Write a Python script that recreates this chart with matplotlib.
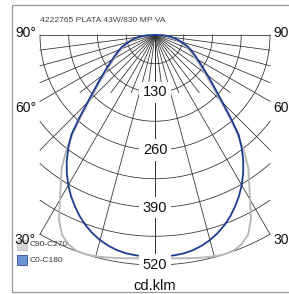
import numpy as np
import matplotlib
matplotlib.use("Agg")
import matplotlib.pyplot as plt
from matplotlib.patches import Rectangle

plt.rcParams['font.family'] = ['Liberation Sans', 'DejaVu Sans']

# ==========================
# DATA (cd/klm)
# ==========================

title = "4222765 PLATA 43W/830 MP VA"
unit_label = "cd.klm"

gamma = [0, 2.5, 5, 7.5, 10, 12.5, 15, 17.5, 20, 22.5, 25, 27.5, 30, 32.5,
         35, 37.5, 40, 42.5, 45, 47.5, 50, 52.5, 55, 57.5, 60, 62.5, 65,
         67.5, 70, 72.5, 75, 77.5, 80, 82.5, 85, 87.5, 90]

c0_c180 = [502, 501, 500, 498, 494, 488, 480, 470, 458, 444, 428, 411, 392, 371,
           348, 322, 294, 252, 216, 189, 168, 150, 135, 123, 112, 103, 95,
           87, 80, 71, 62, 55, 47, 39, 30, 18, 0]

c90_c270 = [504, 505, 507, 509, 512, 515, 518, 520, 519, 512, 498, 470, 430, 396,
            368, 330, 288, 245, 209, 182, 160, 142, 128, 116, 106, 97, 89,
            82, 75, 66, 58, 51, 43, 36, 27, 16, 0]

ring_values = [130, 260, 390, 520]
ring_step = 65
angle_labels = [90, 60, 30]
legend_names = ["C90-C270", "C0-C180"]

# ==========================
# STYLE
# ==========================

BLUE = "#1b3d91"
GRAY = "#b9b9b9"
GRID = "#2b2b2b"

R_MAX = 520
HALF_W = 260          # grid is clipped left/right at this width
px = R_MAX / 230.0    # data units per pixel

fig = plt.figure(figsize=(2.89, 2.94), dpi=100)
ax = fig.add_axes([0, 0, 1, 1])
ax.set_xlim(-155 * px, 134 * px)
ax.set_ylim(-259 * px, 35 * px)
ax.axis("off")

# frame
ax.add_patch(Rectangle((-143 * px, -257 * px), 320 * px, 287 * px,
                       fill=False, edgecolor="#9a9a9a", lw=0.9, clip_on=False))

# ==========================
# GRID
# ==========================

r = ring_step
while r <= R_MAX:
    tmax = np.degrees(np.arcsin(min(1.0, HALF_W / r)))
    t = np.radians(np.linspace(-tmax, tmax, 200))
    ax.plot(r * np.sin(t), -r * np.cos(t), color=GRID, lw=0.55, zorder=1)
    r += ring_step

for a in np.arange(0, 90.1, 7.5):
    t = np.radians(a)
    rend = R_MAX if a == 0 else min(R_MAX, HALF_W / np.sin(t))
    if a % 15 != 0:
        rend = min(rend, 130 / np.cos(t))
    for side in (-1, 1):
        ax.plot([0, side * rend * np.sin(t)], [0, -rend * np.cos(t)],
                color=GRID, lw=0.55, zorder=1)

# ==========================
# CURVES
# ==========================

g = np.radians(gamma)


def side_both(vals):
    v = np.array(vals, dtype=float)
    x = np.concatenate([-v[::-1] * np.sin(g[::-1]), v[1:] * np.sin(g[1:])])
    y = np.concatenate([-v[::-1] * np.cos(g[::-1]), -v[1:] * np.cos(g[1:])])
    return x, y


x, y = side_both(c90_c270)
ax.plot(x, y, color=GRAY, lw=1.4, zorder=3, solid_joinstyle="round")
x, y = side_both(c0_c180)
ax.plot(x, y, color=BLUE, lw=1.3, zorder=4, solid_joinstyle="round")

# ==========================
# LABELS
# ==========================

for v in ring_values:
    ax.text(0, -v, str(v), ha="center", va="center", fontsize=10.5,
            color="#111111", zorder=5,
            bbox=dict(boxstyle="square,pad=0.25", fc="white", ec="none"))

label_offsets = [5, -15, -13]
for a, off in zip(angle_labels, label_offsets):
    t = np.radians(a)
    rend = min(R_MAX, HALF_W / np.sin(t))
    yl = -rend * np.cos(t) + off
    ax.text(-HALF_W - 4 * px, yl, f"{a}°", ha="right", va="center",
            fontsize=10, color="#111111", zorder=5)
    ax.text(HALF_W + 3 * px, yl, f"{a}°", ha="left", va="center",
            fontsize=10, color="#111111", zorder=5, clip_on=False)

ax.text(-HALF_W, 15 * px, title, ha="left", va="center", fontsize=6.1,
        color="#444444")
ax.text(0, -255 * px, unit_label, ha="center", va="baseline", fontsize=10.5,
        color="#111111")

# legend
leg_colors = [("#d6d6d6", "#c4c4c4"), ("#6b94d6", "#2c4f9c")]
leg_y = [-210 * px, -225 * px]
for (fc, ec), name, ly in zip(leg_colors, legend_names, leg_y):
    ax.add_patch(Rectangle((-138 * px, ly - 5 * px), 10 * px, 10 * px,
                           facecolor=fc, edgecolor=ec, lw=0.6, zorder=2))
    ax.text(-125 * px, ly, name, ha="left", va="center", fontsize=6,
            color="#333333", zorder=2)

fig.savefig("out.png", dpi=100)
